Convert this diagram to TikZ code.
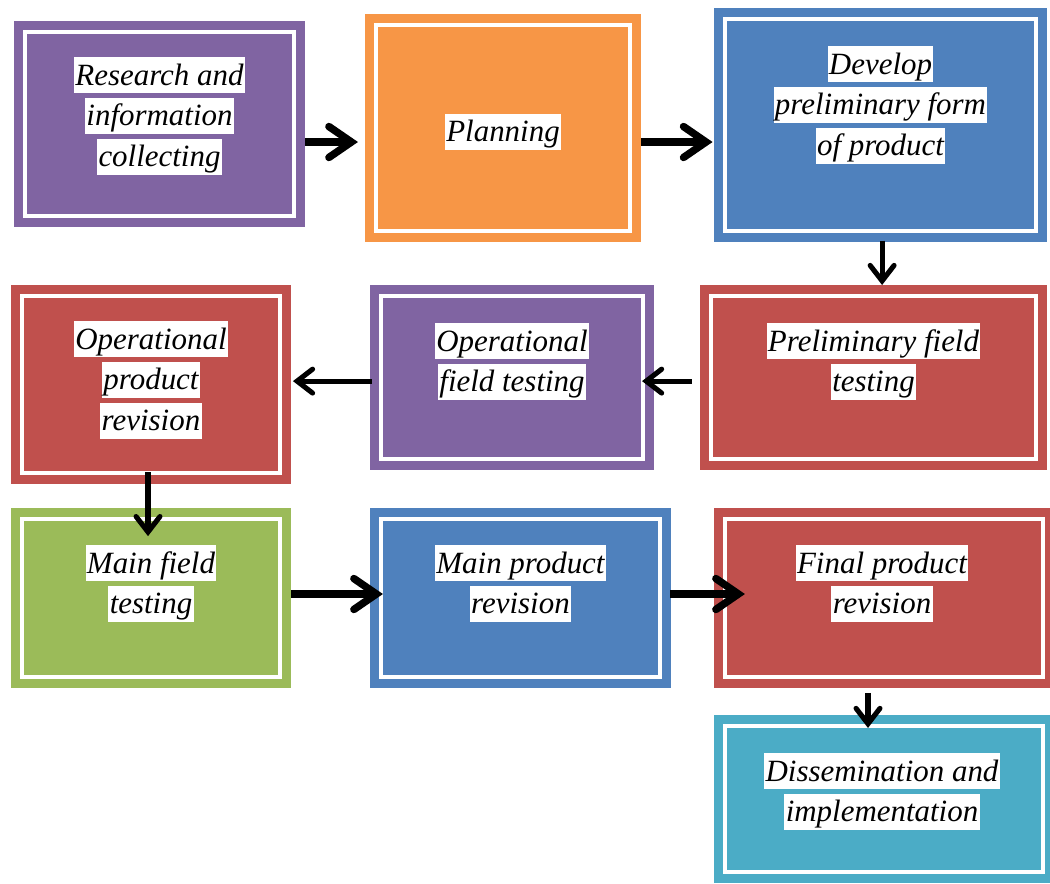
\documentclass[tikz,border=0pt]{standalone}
\usepackage{fontspec}
\setmainfont{Liberation Serif}
\usetikzlibrary{arrows.meta,calc}

\definecolor{stpurple}{HTML}{8064A2}
\definecolor{storange}{HTML}{F79646}
\definecolor{stblue}{HTML}{4F81BD}
\definecolor{stred}{HTML}{C0504D}
\definecolor{stgreen}{HTML}{9BBB59}
\definecolor{stteal}{HTML}{4BACC6}

\setlength{\fboxsep}{0pt}
\newcommand{\hl}[1]{\colorbox{white}{\rule[-0.26em]{0pt}{1.16em}\hspace{1pt}#1\hspace{1pt}}}

\tikzset{
  stage/.style={rectangle, fill=#1, draw=#1, line width=6.4pt, double=white, double distance=2.85pt, outer sep=7.8pt},
  stagetext/.style={inner sep=0pt, align=center, anchor=north, font=\fontsize{22}{29}\selectfont\itshape},
  bigflow/.style={line width=5.3pt, -{Straight Barb[length=16pt, width=22pt, line cap=round]}},
  flow/.style={line width=3.6pt, -{Straight Barb[length=11pt, width=17pt, line cap=round]}}
}

\begin{document}
\begin{tikzpicture}[x=0.025cm, y=-0.025cm]
      \useasboundingbox (0,0) rectangle (1050,883);
      \node[stage=stpurple, minimum width=6.725cm, minimum height=4.6cm] (research) at (159.5,124) {};
      \node[stage=storange, minimum width=6.35cm, minimum height=5.15cm] (planning) at (503,128) {};
      \node[stage=stblue, minimum width=7.775cm, minimum height=5.3cm] (develop) at (880.5,125) {};
      \node[stage=stred, minimum width=8.125cm, minimum height=4.075cm] (prelim) at (873.5,377.5) {};
      \node[stage=stpurple, minimum width=6.55cm, minimum height=4.075cm] (opfield) at (512,377.5) {};
      \node[stage=stred, minimum width=6.45cm, minimum height=4.425cm] (oprev) at (151,384.5) {};
      \node[stage=stgreen, minimum width=6.45cm, minimum height=3.95cm] (mainfield) at (151,598) {};
      \node[stage=stblue, minimum width=6.975cm, minimum height=3.95cm] (mainrev) at (520.5,598) {};
      \node[stage=stred, minimum width=7.95cm, minimum height=3.95cm] (finalrev) at (884,598) {};
      \node[stage=stteal, minimum width=7.95cm, minimum height=3.65cm] (dissem) at (884,799) {};

      \node[stagetext] (researchtxt) at ([yshift=-0.9cm]research.north) {\hl{Research and}\\\hl{information}\\\hl{collecting}};
      \node[stagetext, anchor=center] (planningtxt) at ([yshift=-0.1cm]planning.center) {\hl{Planning}};
      \node[stagetext] (developtxt) at ([yshift=-0.95cm]develop.north) {\hl{Develop}\\\hl{preliminary form}\\\hl{of product}};
      \node[stagetext] (prelimtxt) at ([yshift=-0.95cm]prelim.north) {\hl{Preliminary field}\\\hl{testing}};
      \node[stagetext] (opfieldtxt) at ([yshift=-0.95cm]opfield.north) {\hl{Operational}\\\hl{field testing}};
      \node[stagetext] (oprevtxt) at ([yshift=-0.9cm]oprev.north) {\hl{Operational}\\\hl{product}\\\hl{revision}};
      \node[stagetext] (mainfieldtxt) at ([yshift=-0.925cm]mainfield.north) {\hl{Main field}\\\hl{testing}};
      \node[stagetext] (mainrevtxt) at ([yshift=-0.925cm]mainrev.north) {\hl{Main product}\\\hl{revision}};
      \node[stagetext] (finalrevtxt) at ([yshift=-0.925cm,xshift=-0.05cm]finalrev.north) {\hl{Final product}\\\hl{revision}};
      \node[stagetext] (dissemtxt) at ([yshift=-0.95cm,xshift=-0.05cm]dissem.north) {\hl{Dissemination and}\\\hl{implementation}};

      \draw[bigflow, shorten >=5pt] ([yshift=-0.45cm]research.east) -- ([yshift=-0.45cm]research.east -| planning.west);
      \draw[bigflow, shorten >=1pt] ([yshift=-0.35cm]planning.east) -- ([yshift=-0.35cm]planning.east -| develop.west);
      \draw[flow, shorten <=-1pt] ([xshift=0.04cm]develop.south) -- ([xshift=0.04cm]develop.south |- prelim.north);
      \draw[flow, shorten <=5.7pt, shorten >=-8.5pt] ([yshift=-0.09cm]prelim.west) -- ([yshift=-0.09cm]prelim.west -| opfield.east);
      \draw[flow, shorten <=-1.4pt, shorten >=1.4pt] ([yshift=-0.09cm]opfield.west) -- ([yshift=-0.09cm]opfield.west -| oprev.east);
      \draw[flow, shorten <=-8.5pt, shorten >=-20pt] ([xshift=-0.075cm]oprev.south) -- ([xshift=-0.075cm]oprev.south |- mainfield.north);
      \draw[bigflow, shorten >=-9.2pt] ([yshift=0.1cm]mainfield.east) -- ([yshift=0.1cm]mainfield.east -| mainrev.west);
      \draw[bigflow, shorten <=-0.7pt, shorten >=-22pt] ([yshift=0.1cm]mainrev.east) -- ([yshift=0.1cm]mainrev.east -| finalrev.west);
      \draw[flow, shorten <=3.5pt, shorten >=-9.2pt] ([xshift=-0.4cm]finalrev.south) -- ([xshift=-0.4cm]finalrev.south |- dissem.north);
\end{tikzpicture}
\end{document}
